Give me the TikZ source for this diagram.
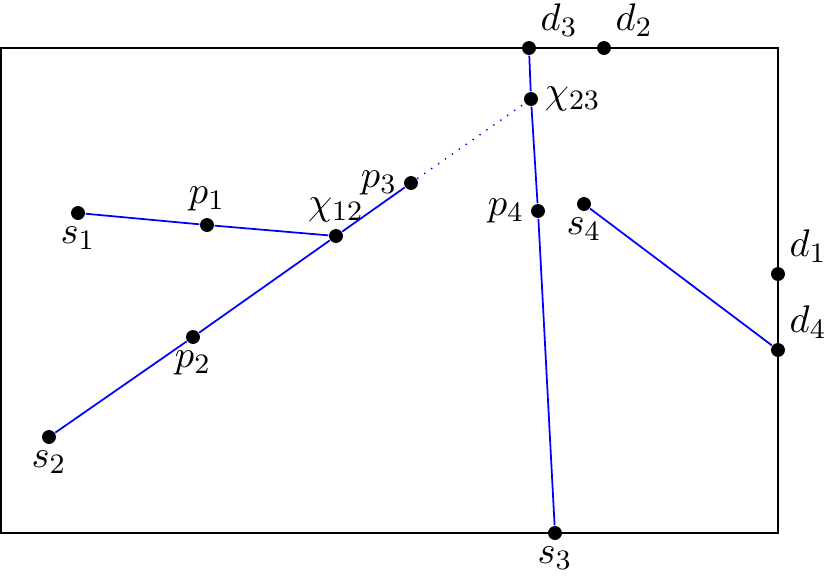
\documentclass[tikz,border=0pt]{standalone}
\usepackage{amsmath}
\usepackage{amssymb}
\usepackage{tikz}
\usetikzlibrary{shapes, arrows}

\tikzset{pt/.style={circle, fill=black, inner sep=1.4pt},
  every label/.style={font=\fontsize{11}{13}\selectfont, inner sep=1.6pt}}

\begin{document}
\begin{tikzpicture}
\useasboundingbox (0,0) rectangle (8.3,5.76);
\draw[line width=0.5pt] (0.01,0.43) rectangle (7.78,5.28);

\node[pt,label=below:{$s_1$}] (s1) at (0.78,3.63) {};
\node[pt,label=above:{$p_1$}] (p1) at (2.07,3.51) {};
\node[pt,label=above:{$\chi_{12}$}] (c12) at (3.36,3.40) {};
\node[pt,label=left:{$p_3$}] (p3) at (4.11,3.93) {};
\node[pt,label=below:{$p_2$}] (p2) at (1.93,2.39) {};
\node[pt,label=below:{$s_2$}] (s2) at (0.49,1.39) {};
\node[pt,label=right:{$\chi_{23}$}] (c23) at (5.31,4.77) {};
\node[pt,label=above right:{$d_3$}] (d3) at (5.29,5.28) {};
\node[pt,label=above right:{$d_2$}] (d2) at (6.04,5.28) {};
\node[pt,label=left:{$p_4$}] (p4) at (5.38,3.65) {};
\node[pt,label=below:{$s_3$}] (s3) at (5.55,0.43) {};
\node[pt,label=below:{$s_4$}] (s4) at (5.84,3.72) {};
\node[pt,label=above right:{$d_1$}] (d1) at (7.78,3.02) {};
\node[pt,label=above right:{$d_4$}] (d4) at (7.78,2.26) {};

\draw[blue, line width=0.5pt] (s1) -- (p1) -- (c12);
\draw[blue, line width=0.5pt] (s2) -- (p2) -- (c12) -- (p3);
\draw[blue, dotted] (p3) -- (c23);
\draw[blue, line width=0.5pt] (d3) -- (c23) -- (p4) -- (s3);
\draw[blue, line width=0.5pt] (s4) -- (d4);
\end{tikzpicture}
\end{document}
